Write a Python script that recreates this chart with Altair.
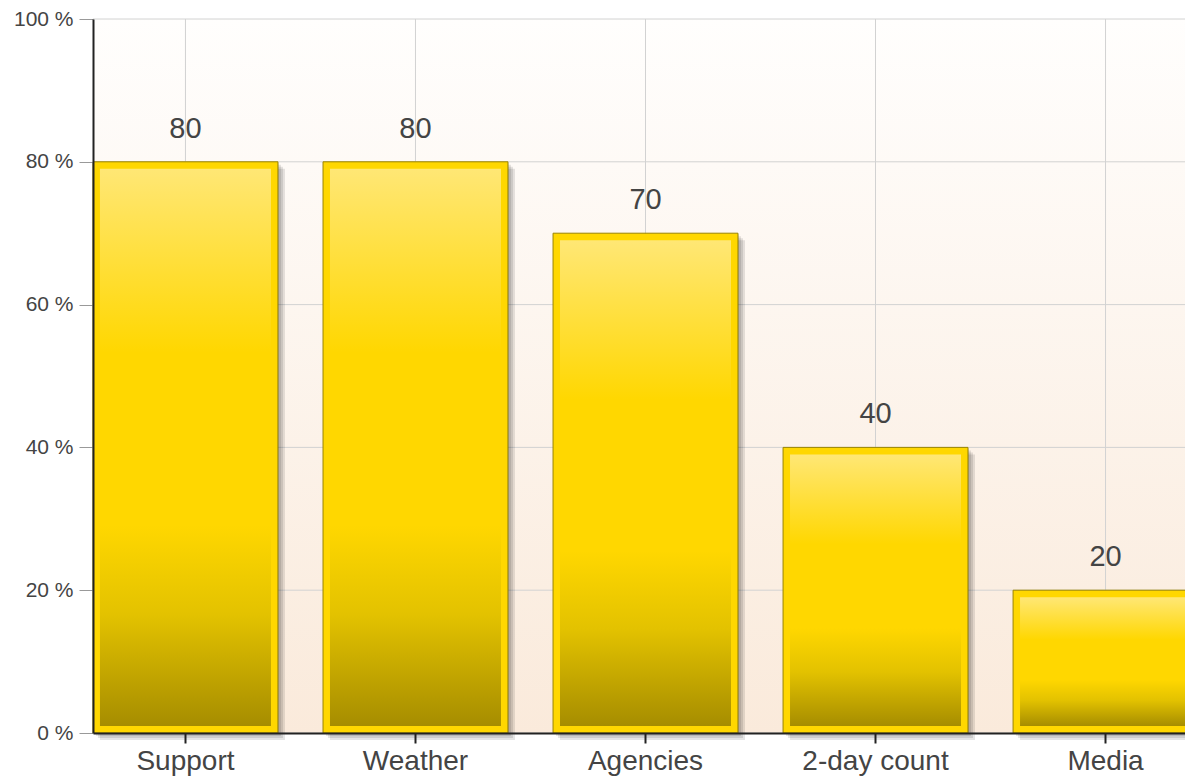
import altair as alt
import pandas as pd

categories = ["Support", "Weather", "Agencies", "2-day count", "Media"]
values = [80, 80, 70, 40, 20]
y_ticks = [0, 20, 40, 60, 80, 100]

df = pd.DataFrame({"category": categories, "value": values})
ticks_df = pd.DataFrame({"tick": y_ticks})
bg_df = pd.DataFrame({"a": [0]})

W, H = 1092, 714
FONT = "Liberation Sans"
TXT = "#444444"
INSET = 7 * 100 / H  # 7px inset expressed in y-units

x_scale = alt.Scale(domain=categories, range=[0, 1105], paddingInner=0.196, paddingOuter=0)
y_scale = alt.Scale(domain=[0, 100], nice=False)

x_axis = alt.Axis(title=None, labelAngle=0, labelFont=FONT, labelFontSize=28,
                  labelColor=TXT, labelPadding=4, tickColor="#222222",
                  tickSize=10, tickWidth=2, domainColor="#222222",
                  domainWidth=2, grid=False, zindex=1)
y_axis = alt.Axis(title=None, values=y_ticks, labelExpr="datum.value + ' %'",
                  labelFont=FONT, labelFontSize=21, labelColor=TXT,
                  labelPadding=6, tickColor="#999999", tickSize=14,
                  tickWidth=1, domainColor="#222222", domainWidth=2,
                  grid=False, zindex=1)


def X(**kw):
    return alt.X("category:N", scale=x_scale, axis=x_axis, sort=categories, **kw)


def Y(field="value:Q"):
    return alt.Y(field, scale=y_scale, axis=y_axis)


bg_grad = alt.LinearGradient(
    gradient="linear", x1=0, y1=0, x2=0, y2=1,
    stops=[alt.GradientStop(offset=0, color="#fffefd"),
           alt.GradientStop(offset=1, color="#faeadb")],
)
bar_grad = alt.LinearGradient(
    gradient="linear", x1=0, y1=0, x2=0, y2=1,
    stops=[alt.GradientStop(offset=0, color="#ffe775"),
           alt.GradientStop(offset=0.33, color="#ffd700"),
           alt.GradientStop(offset=0.64, color="#ffd700"),
           alt.GradientStop(offset=0.8, color="#e3c200"),
           alt.GradientStop(offset=1, color="#a68d00")],
)

background = alt.Chart(bg_df).mark_rect(fill=bg_grad).encode(
    x=alt.value(0), x2=alt.value(W), y=alt.value(0), y2=alt.value(H)
)

hgrid = alt.Chart(ticks_df).mark_rule(color="#d2d2d2", strokeWidth=1).encode(
    y=Y("tick:Q")
)

vgrid = alt.Chart(df).mark_rule(color="#d2d2d2", strokeWidth=1).encode(
    x=X(bandPosition=0.5)
)

shadows = []
for k in [1, 3, 5, 7]:
    shadows.append(
        alt.Chart(df).mark_bar(color="#000000", opacity=0.1, width=185,
                               xOffset=k, yOffset=k).encode(
            x=X(), y=Y(),
        )
    )

outer = alt.Chart(df).mark_bar(color="#ffd700", stroke="#9a8400", strokeWidth=1).encode(
    x=X(), y=Y(),
)

inner = alt.Chart(df).transform_calculate(
    top=f"datum.value - {INSET}"
).mark_bar(fill=bar_grad, width=171).encode(
    x=X(), y=Y("top:Q"), y2=alt.datum(INSET),
)

labels = alt.Chart(df).mark_text(dy=-24, baseline="alphabetic", fontSize=29,
                                 color=TXT, font=FONT).encode(
    x=X(bandPosition=0.5), y=Y(),
    text=alt.Text("value:Q"),
)

chart = alt.layer(background, hgrid, vgrid, *shadows, outer, inner, labels).properties(
    width=W, height=H,
    autosize=alt.AutoSizeParams(type="none"),
    padding={"left": 85, "top": 11, "right": 0, "bottom": 44},
).configure_view(stroke=None).configure(background="#ffffff")

chart.save("out.html", embed_options={"renderer": "svg", "actions": False})
